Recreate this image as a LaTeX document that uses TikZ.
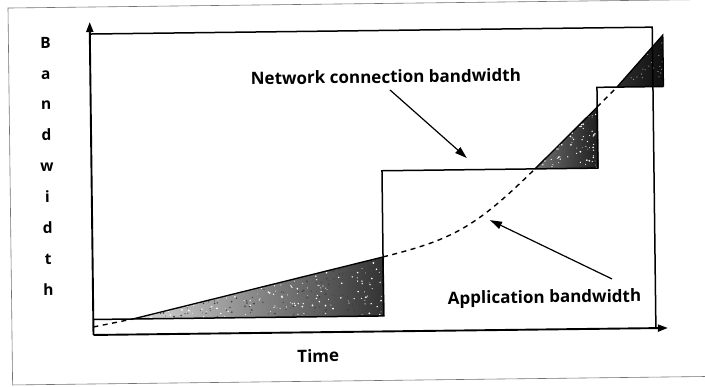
\documentclass[tikz,border=0pt]{standalone}
\usepackage{fontspec}
\setmainfont{Open Sans}
\usetikzlibrary{arrows.meta}

\begin{document}
\begin{tikzpicture}[x=1pt,y=-1pt,
  axisline/.style={line width=1.9pt},
  stepline/.style={line width=1.5pt, line join=miter},
  appline/.style={line width=1.4pt, dash pattern=on 5pt off 4.5pt},
  pointer/.style={line width=1.2pt, -{Triangle[length=12pt,width=7.5pt]}},
  lbl/.style={font=\bfseries\fontsize{17}{20}\selectfont, inner sep=0pt, transform shape},
  ylbl/.style={font=\bfseries\fontsize{15.5}{18}\selectfont, inner sep=0pt, transform shape},
  frameline/.style={line width=0.6pt, black!55},
  wedge/.style={draw=black, line width=1.3pt, line join=miter},
]
\useasboundingbox (0,0) rectangle (705,387);

\begin{scope}[rotate around={0.7:(93.5,335)}]
  % outer frame
  \coordinate (f1) at (12,7);
  \coordinate (f2) at (712,7);
  \coordinate (f3) at (12,384);
  \coordinate (f4) at (712,384);
  \draw[frameline] (f2) -- (f1) -- (f3) -- (f4);

  % key points
  \coordinate (O)  at (93.5,335);
  \coordinate (Yt) at (93.5,22);
  \coordinate (Xt) at (668,335);
  \coordinate (B1) at (93.5,34);
  \coordinate (B2) at (656,34);
  \coordinate (B3) at (656,335);

  \coordinate (s0) at (93.5,319.5);
  \coordinate (s1) at (384,319.5);
  \coordinate (s2) at (384,174.3);
  \coordinate (s3) at (600,174.3);
  \coordinate (s4) at (600,93.5);
  \coordinate (s5) at (666.5,93.5);

  \coordinate (a0) at (93.5,327);
  \coordinate (a1) at (133,319.5);
  \coordinate (a2) at (384,260.5);
  \coordinate (a3) at (537,174.3);
  \coordinate (a4) at (600,113.2);
  \coordinate (a5) at (620,93.5);
  \coordinate (a6) at (666.5,42);

  % shaded gaps between the two curves
  \fill[left color=black!15, right color=black!80] (a1) -- (a2) -- (s1) -- cycle;
  \fill[left color=black!55, right color=black!88] (a3) -- (a4) -- (s3) -- cycle;
  \fill[left color=black!82, right color=black!94] (a5) -- (a6) -- (s5) -- cycle;

  % speckles
  \pgfmathsetseed{11}
  \begin{scope}
    \clip (a1) -- (a2) -- (s1) -- cycle;
    \foreach \k in {1,...,320}{
      \pgfmathsetmacro\px{133+251*rnd}
      \pgfmathsetmacro\py{258+62*rnd}
      \pgfmathsetmacro\pr{0.4+0.6*rnd}
      \fill[white] (\px,\py) circle (\pr pt);
    }
    \foreach \k in {1,...,260}{
      \pgfmathsetmacro\px{133+251*rnd}
      \pgfmathsetmacro\py{258+62*rnd}
      \pgfmathsetmacro\pr{0.4+0.6*rnd}
      \fill[black!75] (\px,\py) circle (\pr pt);
    }
  \end{scope}
  \begin{scope}
    \clip (a3) -- (a4) -- (s3) -- cycle;
    \foreach \k in {1,...,130}{
      \pgfmathsetmacro\px{537+63*rnd}
      \pgfmathsetmacro\py{112+63*rnd}
      \pgfmathsetmacro\pr{0.4+0.6*rnd}
      \fill[white] (\px,\py) circle (\pr pt);
    }
  \end{scope}
  \begin{scope}
    \clip (a5) -- (a6) -- (s5) -- cycle;
    \foreach \k in {1,...,35}{
      \pgfmathsetmacro\px{620+47*rnd}
      \pgfmathsetmacro\py{42+52*rnd}
      \fill[black!35] (\px,\py) circle (0.6pt);
    }
  \end{scope}
  \draw[wedge] (a1) -- (a2) -- (s1);
  \draw[wedge] (a3) -- (a4) -- (s3);
  \draw[wedge] (a5) -- (a6) -- (s5);

  % bounding box of the chart
  \draw[stepline] (B1) -- (B2) -- (B3);

  % network connection bandwidth (steps)
  \draw[stepline] (s0) -- (s1) -- (s2) -- (s3) -- (s4) -- (s5);

  % application bandwidth (dashed)
  \draw[appline] (a0) -- (a1);
  \draw[appline] (a2) .. controls (454,244) and (477,231.8) .. (a3);
  \draw[appline] (a4) -- (a5);

  % axes
  \draw[axisline, -{Triangle[length=10pt,width=7pt]}] (O) -- (Yt);
  \draw[axisline, -{Triangle[length=10pt,width=7pt]}] (O) -- (Xt);

  % labels
  \node[lbl, anchor=base] (netlbl) at (389,86.6) {Network connection bandwidth};
  \node[lbl, anchor=base] (applbl) at (545,308.5) {Application bandwidth};
  \node[lbl, anchor=base] (timelbl) at (318,364.8) {Time};
  \foreach \ch [count=\i from 0] in {B,a,n,d,w,i,d,t,h}
    \node[ylbl, anchor=base] (ylbl\i) at (49,47.5+\i*30.9) {\ch};

  % pointers
  \coordinate (netfrom) at (393,93.6);
  \coordinate (netto) at (469,162.6);
  \coordinate (appfrom) at (612.7,285.3);
  \coordinate (appto) at (491.4,225);
  \draw[pointer] (netfrom) -- (netto);
  \draw[pointer] (appfrom) -- (appto);
\end{scope}
\end{tikzpicture}
\end{document}
